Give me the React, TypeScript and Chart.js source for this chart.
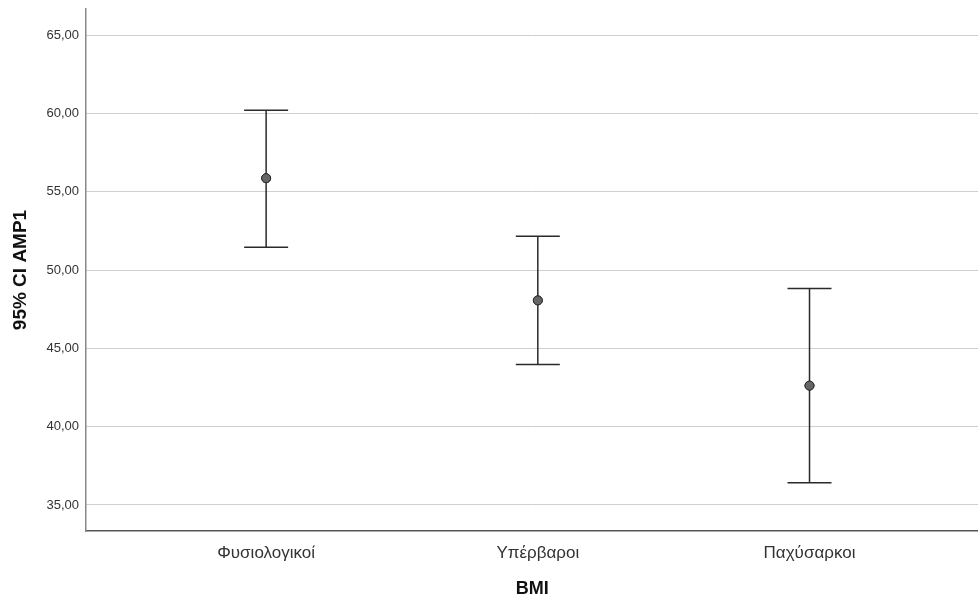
import React, { useEffect, useRef } from "react";
import { Chart, registerables } from "chart.js";

Chart.register(...registerables);

const categories = ["Φυσιολογικοί", "Υπέρβαροι", "Παχύσαρκοι"];
const means = [55.86, 48.06, 42.62];
const lowerCI = [51.45, 43.96, 36.42];
const upperCI = [60.2, 52.15, 48.82];
const yTicks = [35, 40, 45, 50, 55, 60, 65];

const FONT = "'Liberation Sans', Arial, sans-serif";

const errorBarPlugin = {
  id: "errorBars",
  afterDatasetsDraw(chart: any) {
    const { ctx, scales } = chart;
    const xs = scales.x;
    const ys = scales.y;
    ctx.save();
    ctx.strokeStyle = "#2a2a2a";
    ctx.lineWidth = 1.5;
    const capHalf = 22;
    categories.forEach((_, i) => {
      const x = xs.getPixelForValue(i);
      const yl = ys.getPixelForValue(lowerCI[i]);
      const yu = ys.getPixelForValue(upperCI[i]);
      ctx.beginPath();
      ctx.moveTo(x, yl);
      ctx.lineTo(x, yu);
      ctx.moveTo(x - capHalf, yu);
      ctx.lineTo(x + capHalf, yu);
      ctx.moveTo(x - capHalf, yl);
      ctx.lineTo(x + capHalf, yl);
      ctx.stroke();
    });
    ctx.restore();
    const meta = chart.getDatasetMeta(0);
    meta.data.forEach((pt: any) => pt.draw(ctx, chart.chartArea));
  },
};

export default function App() {
  const canvasRef = useRef<HTMLCanvasElement | null>(null);

  useEffect(() => {
    document.body.style.margin = "0";
    const canvas = canvasRef.current;
    if (!canvas) return;
    const chart = new Chart(canvas, {
      type: "scatter",
      data: {
        datasets: [
          {
            label: "Mean",
            data: means.map((m, i) => ({ x: i, y: m })),
            showLine: false,
            pointRadius: 4.5,
            pointBackgroundColor: "#666666",
            pointBorderColor: "#2a2a2a",
            pointBorderWidth: 1,
          },
        ],
      },
      options: {
        animation: false,
        responsive: false,
        maintainAspectRatio: false,
        layout: { padding: { top: 9, left: 0, right: 0, bottom: 0 } },
        plugins: {
          legend: { display: false },
          tooltip: { enabled: false },
        },
        scales: {
          x: {
            type: "linear",
            min: -0.663,
            max: 2.622,
            afterBuildTicks: (scale: any) => {
              scale.ticks = categories.map((_, i) => ({ value: i }));
            },
            afterFit: (scale: any) => {
              scale.height = 70;
              scale.paddingLeft = 0;
              scale.paddingRight = 0;
            },
            grid: { display: false, drawTicks: false, tickLength: 0 },
            border: { display: true, color: "#555555", width: 1.5 },
            ticks: {
              padding: 12,
              color: "#333333",
              font: { family: FONT, size: 17 },
              callback: (v: any) => categories[Math.round(Number(v))] ?? "",
            },
            title: {
              display: true,
              text: "BMI",
              color: "#111111",
              font: { family: FONT, size: 18, weight: "bold" },
              padding: { top: 0, bottom: 1 },
            },
          },
          y: {
            type: "linear",
            min: 33.34,
            max: 66.66,
            afterBuildTicks: (scale: any) => {
              scale.ticks = yTicks.map((v) => ({ value: v }));
            },
            afterFit: (scale: any) => {
              scale.width = 86;
              scale.paddingTop = 0;
              scale.paddingBottom = 0;
            },
            grid: { color: "#cfcfcf", lineWidth: 1, drawTicks: false, tickLength: 0 },
            border: { display: true, color: "#888888", width: 1.5 },
            ticks: {
              padding: 7,
              color: "#333333",
              font: { family: FONT, size: 13 },
              callback: (v: any) => Number(v).toFixed(2).replace(".", ","),
            },
            title: {
              display: true,
              text: "95% CI AMP1",
              color: "#111111",
              font: { family: FONT, size: 19, weight: "bold" },
              padding: { top: 9, bottom: 0 },
            },
          },
        },
      },
      plugins: [errorBarPlugin],
    });
    return () => chart.destroy();
  }, []);

  return (
    <div style={{ position: "absolute", left: 0, top: 0, width: 978, height: 601, overflow: "hidden", background: "#fff" }}>
      <canvas ref={canvasRef} width={984} height={601} style={{ width: 984, height: 601 }} />
    </div>
  );
}
